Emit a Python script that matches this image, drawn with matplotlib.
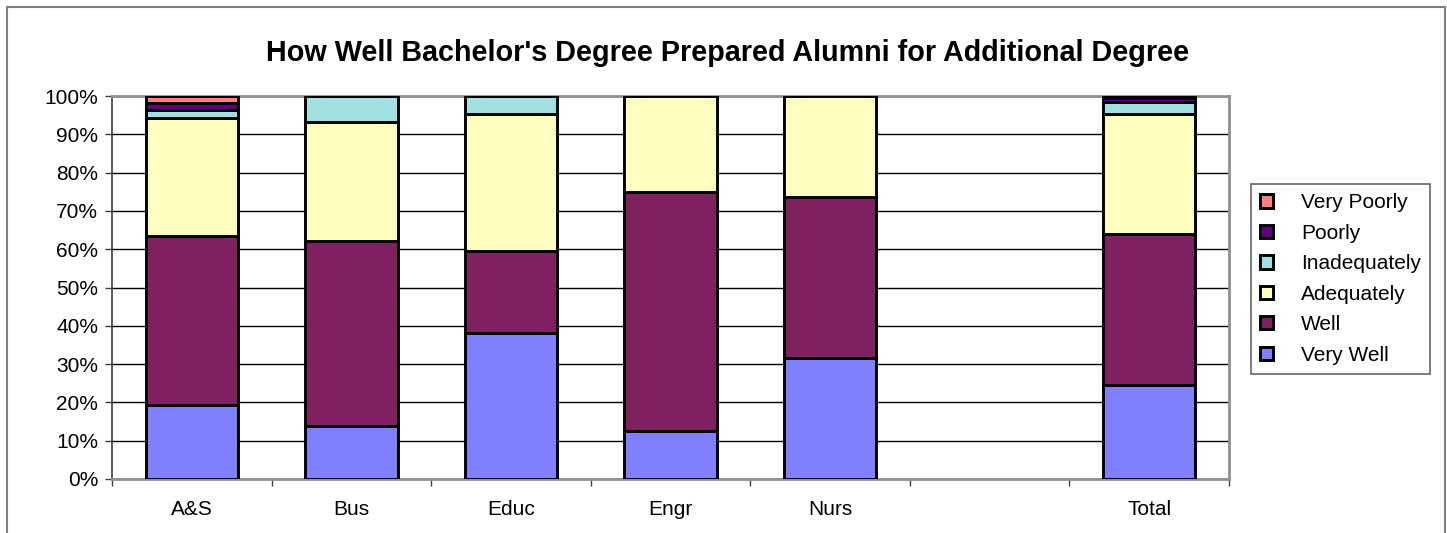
import matplotlib.pyplot as plt
import numpy as np
from matplotlib.patches import Rectangle

plt.rcParams['font.family'] = ['Liberation Sans', 'DejaVu Sans']

# Data (percent of alumni per college)
colleges = ["A&S", "Bus", "Educ", "Engr", "Nurs", "", "Total"]
very_well = [19.3, 13.8, 38.1, 12.5, 31.6, 0, 24.5]
well = [44.1, 48.3, 21.4, 62.5, 42.1, 0, 39.5]
adequately = [30.9, 31.1, 35.8, 25.0, 26.3, 0, 31.3]
inadequately = [2.0, 6.8, 4.7, 0, 0, 0, 3.1]
poorly = [1.9, 0, 0, 0, 0, 0, 1.2]
very_poorly = [1.8, 0, 0, 0, 0, 0, 0.4]

series = [
    ("Very Well", very_well, "#8080FF"),
    ("Well", well, "#7F2060"),
    ("Adequately", adequately, "#FFFFC0"),
    ("Inadequately", inadequately, "#A0E0E0"),
    ("Poorly", poorly, "#5F007F"),
    ("Very Poorly", very_poorly, "#FF8080"),
]

fig = plt.figure(figsize=(14.47, 5.33), dpi=100)
ax = fig.add_axes([112 / 1447, 1 - 479 / 533, 1117 / 1447, 383 / 533])

x = np.arange(len(colleges))
bottom = np.zeros(len(colleges))
handles = []
for name, vals, color in series:
    vals = np.array(vals, dtype=float)
    m = vals > 0
    bars = ax.bar(x[m], vals[m], bottom=bottom[m], width=0.58, color=color,
                  edgecolor="black", linewidth=2.1, label=name, zorder=3)
    handles.append(bars)
    bottom += vals

# axes styling
ax.set_xlim(-0.5, len(colleges) - 0.5)
ax.set_ylim(0, 100)
ax.set_yticks(np.arange(0, 101, 10))
ax.set_yticklabels([f"{v}%" for v in range(0, 101, 10)], fontsize=15)
ax.yaxis.grid(True, color="black", linewidth=1.0, zorder=0)
ax.set_axisbelow(True)

ax.set_xticks(x)
ax.set_xticklabels(colleges, fontsize=15)
ax.tick_params(axis="x", which="major", length=0, pad=15)
ax.set_xticks(np.arange(-0.5, len(colleges), 1), minor=True)
ax.tick_params(axis="x", which="minor", length=5, width=1, color="#404040", direction="out")
ax.tick_params(axis="y", length=5, width=1, color="#404040", pad=5, direction="out")

for side in ["top", "right", "bottom"]:
    ax.spines[side].set_color("#909090")
    ax.spines[side].set_linewidth(2)
ax.spines["left"].set_color("#404040")
ax.spines["left"].set_linewidth(1.2)

fig.text(0.5025, 1 - 53 / 533, "How Well Bachelor's Degree Prepared Alumni for Additional Degree",
         ha="center", va="center", fontsize=20.7, fontweight="bold")

leg = fig.legend(handles[::-1], [s[0] for s in series][::-1],
                 loc="upper left", bbox_to_anchor=(1251 / 1447, 1 - 184 / 533),
                 fontsize=15, frameon=True, fancybox=False, handlelength=0.6,
                 handleheight=0.6, handletextpad=1.35, labelspacing=0.55,
                 borderpad=0.45, borderaxespad=0)
leg.get_frame().set_edgecolor("#404040")
leg.get_frame().set_linewidth(1.2)

# outer chart border
fig.patches.append(Rectangle((7 / 1447, -0.02), (1445 - 7) / 1447, 1.02 - 7 / 533,
                             transform=fig.transFigure, fill=False,
                             edgecolor="#808080", linewidth=1.5))

fig.savefig("out.png", dpi=100)
